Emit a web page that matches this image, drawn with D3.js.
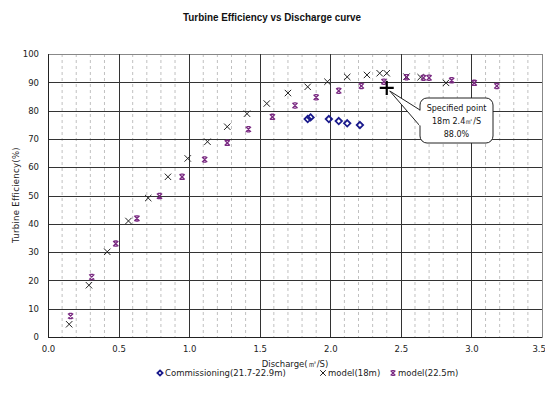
<!DOCTYPE html>
<html><head><meta charset="utf-8">
<script src="https://cdn.jsdelivr.net/npm/d3@7"></script>
<style>body{margin:0;background:#fff}svg{display:block}</style>
</head><body>
<script>
// Data
const commissioning = [[1.84,77.0],[1.86,77.6],[1.99,77.0],[2.06,76.3],[2.12,75.5],[2.21,74.9]];
const model18 = [[0.15,4.5],[0.29,18.3],[0.42,30.1],[0.57,41.0],[0.71,49.1],[0.85,56.6],[0.99,63.1],[1.13,69.0],[1.27,74.3],[1.41,78.9],[1.55,82.5],[1.70,86.2],[1.84,88.4],[1.98,90.2],[2.12,91.9],[2.26,92.6],[2.35,93.2],[2.40,93.2],[2.54,92.0],[2.64,91.8],[2.82,89.8]];
const model225 = [[0.16,7.4],[0.31,21.2],[0.48,33.0],[0.63,41.9],[0.79,49.8],[0.95,56.6],[1.11,62.7],[1.27,68.6],[1.42,73.4],[1.59,77.8],[1.75,81.8],[1.90,84.7],[2.06,87.0],[2.22,88.7],[2.38,90.2],[2.54,91.8],[2.66,91.6],[2.70,91.6],[2.86,90.7],[3.02,89.8],[3.18,88.7]];
const specified = [[2.4,88.0]];
const xTicks = [0,0.5,1,1.5,2,2.5,3,3.5];
const yTicks = [0,10,20,30,40,50,60,70,80,90,100];
const xMinor = d3.range(1,35).map(i=>i/10);
const title = "Turbine Efficiency vs Discharge curve";
const xLabel = "Discharge(㎥/S)";
const yLabel = "Turbine Efficiency(%)";
const calloutLines = ["Specified point","18m  2.4㎥/S","88.0%"];
const legendItems = ["Commissioning(21.7-22.9m)","model(18m)","model(22.5m)"];

const W=545,H=401;
const svg=d3.select("body").append("svg").attr("width",W).attr("height",H);
const x=d3.scaleLinear().domain([0,3.5]).range([48,542]);
const y=d3.scaleLinear().domain([0,100]).range([337,54]);
const font="'DejaVu Sans', sans-serif";

// title
svg.append("text").attr("x",272).attr("y",21).attr("text-anchor","middle")
  .attr("font-family","'Liberation Sans Narrow','Liberation Sans',sans-serif").attr("font-weight","bold")
  .attr("font-size",11).attr("textLength",178).attr("lengthAdjust","spacingAndGlyphs").attr("fill","#111").text(title);

// minor vertical grid
svg.append("g").selectAll("line").data(xMinor.filter(v=>Math.abs(v*2-Math.round(v*2))>1e-6)).join("line")
  .attr("x1",d=>x(d)).attr("x2",d=>x(d)).attr("y1",y(100)).attr("y2",y(0))
  .attr("stroke","#c0c0c0").attr("stroke-width",1).attr("stroke-dasharray","3,3");
// major grid
svg.append("g").selectAll("line").data(yTicks).join("line")
  .attr("x1",x(0)).attr("x2",x(3.5)).attr("y1",d=>Math.round(y(d))+0.5).attr("y2",d=>Math.round(y(d))+0.5)
  .attr("stroke",d=>d===100?"#888":"#333").attr("stroke-width",1);
svg.append("g").selectAll("line").data(xTicks).join("line")
  .attr("x1",d=>Math.round(x(d))+0.5).attr("x2",d=>Math.round(x(d))+0.5).attr("y1",y(100)).attr("y2",y(0))
  .attr("stroke",d=>d===3.5?"#888":"#333").attr("stroke-width",1);

// axes
const xAxis=svg.append("g").attr("transform",`translate(0,${y(0)})`)
  .call(d3.axisBottom(x).tickValues(xTicks).tickFormat(d3.format(".1f")).tickSize(0).tickPadding(9));
const yAxis=svg.append("g").attr("transform",`translate(${x(0)},0)`)
  .call(d3.axisLeft(y).tickValues(yTicks).tickFormat(d3.format("d")).tickSize(0).tickPadding(9));
[xAxis,yAxis].forEach(a=>{a.select(".domain").attr("stroke","#222");
  a.selectAll("text").attr("font-family",font).attr("font-size",8.5).attr("fill","#222");});
// keep last x tick label inside the picture
xAxis.selectAll(".tick").filter(d=>d===3.5).select("text").attr("text-anchor","end").attr("dx","0.4em");

// axis labels
svg.append("text").attr("x",295).attr("y",367).attr("text-anchor","middle")
  .attr("font-family",font).attr("font-size",8.5).attr("fill","#222").text(xLabel);
svg.append("text").attr("transform","translate(19,195) rotate(-90)").attr("text-anchor","middle")
  .attr("font-family",font).attr("font-size",8.5).attr("letter-spacing",0.3).attr("fill","#222").text(yLabel);

// markers
const purple="#7a2a82", navy="#1a1a8c";
function xMark(g,s,color,sw){
  g.append("path").attr("d",`M${-s},${-s}L${s},${s}M${-s},${s}L${s},${-s}`).attr("stroke",color).attr("stroke-width",sw).attr("fill","none");
}
function starMark(g,s,color){
  g.append("path").attr("d",`M${-s},${-s}L${s},${s}M${-s},${s}L${s},${-s}M${-s*0.6},${-s}L${s*0.6},${-s}M${-s*0.6},${s}L${s*0.6},${s}`)
    .attr("stroke",color).attr("stroke-width",1.3).attr("fill","none");
}
function diaMark(g,s,color){
  g.append("path").attr("d",`M0,${-s}L${s},0L0,${s}L${-s},0Z`).attr("stroke",color).attr("stroke-width",1.8).attr("fill","none");
}
svg.append("g").selectAll("g").data(model18).join("g")
  .attr("transform",d=>`translate(${x(d[0])},${y(d[1])})`).each(function(){xMark(d3.select(this),3.2,"#222",1);});
svg.append("g").selectAll("g").data(model225).join("g")
  .attr("transform",d=>`translate(${x(d[0])},${y(d[1])})`).each(function(){starMark(d3.select(this),2.6,purple);});
svg.append("g").selectAll("g").data(commissioning).join("g")
  .attr("transform",d=>`translate(${x(d[0])},${y(d[1])})`).each(function(){diaMark(d3.select(this),3.2,navy);});

// specified point cross
const sp=specified[0], sx=x(sp[0]), sy=y(sp[1]);
svg.append("path").attr("d",`M${sx-7},${sy}L${sx+7},${sy}M${sx},${sy-7}L${sx},${sy+7}`)
  .attr("stroke","#000").attr("stroke-width",2.2);

// callout
const bx=420,by=98,bw=73,bh=45,r=7;
const tail=`M${sx+3},${sy+3} L${bx},${by+12} L${bx},${by+28} Z`;
svg.append("path").attr("d",tail).attr("fill","#fff").attr("stroke","#222").attr("stroke-width",1);
svg.append("rect").attr("x",bx).attr("y",by).attr("width",bw).attr("height",bh).attr("rx",r)
  .attr("fill","#fff").attr("stroke","#222").attr("stroke-width",1);
svg.append("path").attr("d",`M${bx},${by+12.5}L${bx},${by+27.5}`).attr("stroke","#fff").attr("stroke-width",2);
svg.append("g").selectAll("text").data(calloutLines).join("text")
  .attr("x",bx+bw/2).attr("y",(d,i)=>by+13+i*13).attr("text-anchor","middle")
  .attr("font-family",font).attr("font-size",8).attr("fill","#111").text(d=>d);

// legend
const lg=svg.append("g").attr("font-family",font).attr("font-size",8.5).attr("fill","#222");
const ly=376;
diaMark(lg.append("g").attr("transform",`translate(160,${ly-3})`),2.6,navy);
lg.append("text").attr("x",165).attr("y",ly).text(legendItems[0]);
xMark(lg.append("g").attr("transform",`translate(323,${ly-3})`),2.8,"#222",1);
lg.append("text").attr("x",328).attr("y",ly).text(legendItems[1]);
starMark(lg.append("g").attr("transform",`translate(393,${ly-3})`),2.4,purple);
lg.append("text").attr("x",398).attr("y",ly).text(legendItems[2]);
</script>
</body></html>
